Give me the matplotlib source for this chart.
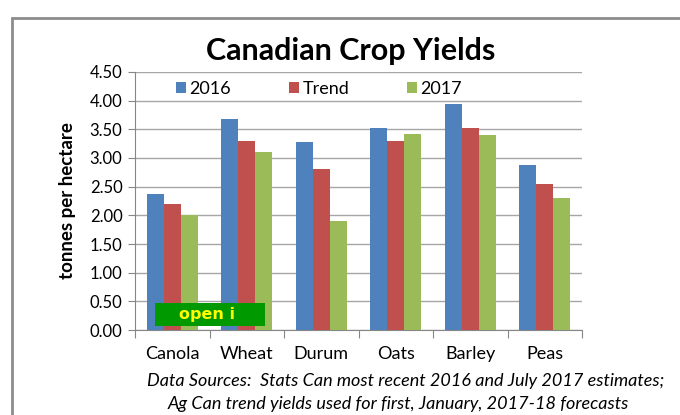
import matplotlib
matplotlib.use("Agg")
import matplotlib.pyplot as plt
import numpy as np
from matplotlib.patches import Rectangle

categories = ["Canola", "Wheat", "Durum", "Oats", "Barley", "Peas"]
series_names = ["2016", "Trend", "2017"]
y2016 = [2.37, 3.68, 3.28, 3.53, 3.94, 2.87]
ytrend = [2.20, 3.30, 2.80, 3.30, 3.52, 2.55]
y2017 = [2.00, 3.10, 1.90, 3.42, 3.40, 2.30]
colors = ["#4F81BD", "#C0504D", "#9BBB59"]
yticks = [0.0, 0.5, 1.0, 1.5, 2.0, 2.5, 3.0, 3.5, 4.0, 4.5]

plt.rcParams['font.family'] = ['Lato', 'DejaVu Sans']

W, H = 680, 415
fig = plt.figure(figsize=(6.8, 4.15), dpi=100)

def px(x0, y0, x1, y1):
    return [x0 / W, 1 - y1 / H, (x1 - x0) / W, (y1 - y0) / H]

# outer frame
fig.patches.append(Rectangle((12 / W, -0.1), 1.2, 1 - 18 / H + 0.1, transform=fig.transFigure,
                             fill=False, edgecolor="#8C8C8C", linewidth=2))

ax = fig.add_axes(px(135, 72, 582, 330))
x = np.arange(len(categories))
bw = 0.23
for i, (vals, c, name) in enumerate(zip([y2016, ytrend, y2017], colors, series_names)):
    ax.bar(x + (i - 1) * bw, vals, width=bw, color=c, label=name, zorder=3)

ax.set_xlim(-0.5, len(categories) - 0.5)
ax.set_ylim(0, 4.5)
ax.set_yticks(yticks)
ax.set_yticklabels([f"{v:.2f}" for v in yticks], fontsize=12)
ax.yaxis.grid(True, color="#A6A6A6", linewidth=1, zorder=0)
ax.set_axisbelow(True)
for s in ["top", "right"]:
    ax.spines[s].set_visible(False)
ax.spines["left"].set_color("#868686")
ax.spines["bottom"].set_color("#868686")
ax.tick_params(axis="y", length=5, color="#868686", pad=4)
ax.set_xticks(np.arange(-0.5, len(categories)), minor=False)
ax.set_xticklabels([])
ax.tick_params(axis="x", length=6, color="#868686")
for xi, cat in zip(x, categories):
    ax.text(xi, -0.42, cat, ha="center", va="center", fontsize=13, transform=ax.transData)

ax.set_ylabel("tonnes per hectare", fontsize=13.5, fontweight="bold", labelpad=10)

leg = ax.legend(loc="center left", bbox_to_anchor=((176 - 135) / 447, 1 - 17 / 258), ncol=3,
                frameon=False, fontsize=13, handlelength=0.55, handleheight=0.55,
                handletextpad=0.2, columnspacing=3.2, borderpad=0, borderaxespad=0)

fig.text(351 / W, 1 - 51 / H, "Canadian Crop Yields", ha="center", va="center",
         fontsize=22, fontweight="bold")

# overlay box
fig.patches.append(Rectangle((155 / W, 1 - 326 / H), 110 / W, 23 / H, transform=fig.transFigure,
                             facecolor="#009900", edgecolor="none", zorder=5))
fig.text(207 / W, 1 - 314 / H, "open i", ha="center", va="center", fontsize=11.5,
         fontweight="bold", color="#FFFF00", family=["DejaVu Sans"], zorder=6)

fig.text(406 / W, 1 - 381 / H, "Data Sources:  Stats Can most recent 2016 and July 2017 estimates;",
         ha="center", va="center", fontsize=13, style="italic")
fig.text(398 / W, 1 - 404 / H, "Ag Can trend yields used for first, January, 2017-18 forecasts",
         ha="center", va="center", fontsize=13, style="italic")

fig.savefig("out.png", dpi=100)
